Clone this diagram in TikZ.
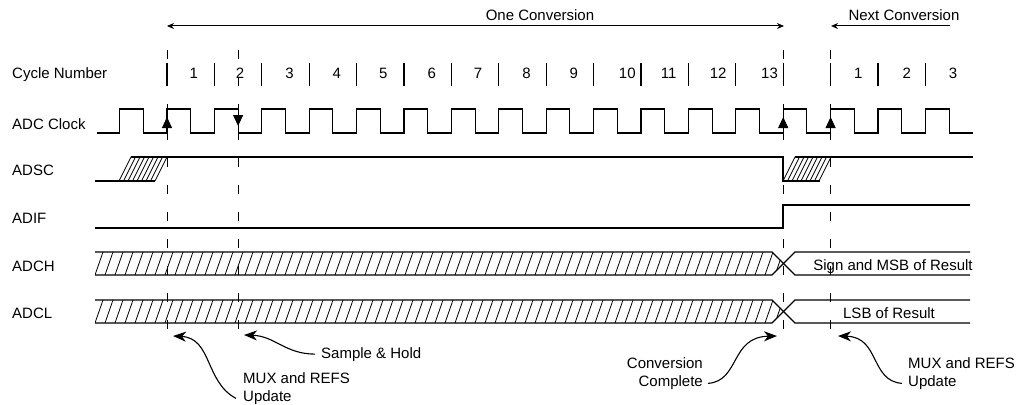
\documentclass[tikz,border=0pt]{standalone}
\usepackage{fontspec}
\setmainfont{Liberation Sans}
\usetikzlibrary{arrows.meta}

\begin{document}
\begin{tikzpicture}[x=1pt, y=-1pt,
    lbl/.style={font=\fontsize{15}{18}\selectfont, inner sep=0pt},
    sig/.style={line width=1.1pt},
    hatch/.style={line width=0.8pt},
    guide/.style={line width=1pt, dash pattern=on 9pt off 18pt},
    edgetip/.style={line width=1pt, -{Triangle[length=11pt, width=10pt]}},
    convspan/.style={line width=1pt},
    note/.style={line width=1.1pt, -{Stealth[length=13pt, width=10pt, inset=4pt]}}]
  \useasboundingbox (0,0) rectangle (1027,404);
  \def\per{47.4}
  % row labels
  \foreach \lab/\y [count=\i] in {Cycle Number/73, ADC Clock/124, ADSC/170, ADIF/218, ADCH/266, ADCL/313}
    {\node[lbl, anchor=base west] (row\i) at (12,\y+5.4) {\lab};}

  % conversion spans
  \node[lbl, anchor=base] (one) at (540,20.4) {One Conversion};
  \node[lbl, anchor=base] (next) at (904,20.4) {Next Conversion};
  \coordinate (oneL) at (167,26);
  \coordinate (oneR) at (784,26);
  \coordinate (nextL) at (831,26);
  \coordinate (nextR) at (950,26);
  \draw[convspan, {Stealth[length=7pt, width=6pt]}-{Stealth[length=7pt, width=6pt]}] (oneL) -- (oneR);
  \draw[convspan, -{Stealth[length=7pt, width=6pt]}] (nextR) -- (nextL);

  % cycle numbers
  \foreach \k in {0,...,16} {\draw[sig] ({167+\k*\per},63) -- ({167+\k*\per},86);}
  \foreach \n/\d in {1/3, 2/2, 3/4, 4/4, 5/3, 6/4, 7/3, 8/4, 9/4, 10/10, 11/4, 12/6, 13/10}
    {\node[lbl, anchor=base] (cyc\n) at ({167+(\n-0.5)*\per+\d},78) {\n};}
  \foreach \n/\d in {1/4, 2/5, 3/4}
    {\node[lbl, anchor=base] (nxt\n) at ({167+(\n+13.5)*\per+\d},78) {\n};}

  % guide lines
  \foreach \k/\gn in {0/gA, 1.5/gB, 13/gC, 14/gD}
    {\coordinate (\gn) at ({167+\k*\per},50);
     \draw[guide] (\gn) -- ({167+\k*\per},334);}

  % ADC clock
  \draw[sig] (97,133) \foreach \k in {-1,...,16} {
      -- ({167+\k*\per},133) -- ({167+\k*\per},109)
      -- ({167+(\k+0.5)*\per},109) -- ({167+(\k+0.5)*\per},133)} -- (973,133);
  \foreach \k in {0,13,14} {\draw[edgetip] ({167+\k*\per},133) -- ({167+\k*\per},117);}
  \draw[edgetip] ({167+1.5*\per},109) -- ({167+1.5*\per},126);

  % ADSC
  \draw[sig] (95,181) -- (155,181);
  \draw[sig] (131,157) -- (783,157) -- (783,181) -- (820,181);
  \draw[sig] (795,157) -- (973,157);
  \foreach \d in {0,4.5,...,36} {
    \draw[hatch] (119+\d,181) -- (131+\d,157);
    \draw[hatch] (783+\d,181) -- (795+\d,157);}

  % ADIF
  \draw[sig] (95,228) -- (783,228) -- (783,205) -- (970,205);

  % ADCH and ADCL
  \foreach \c in {263.5, 311.5} {
    \begin{scope}
      \clip (95,\c-11.5) -- (772,\c-11.5) -- (783.5,\c) -- (772,\c+11.5) -- (95,\c+11.5) -- cycle;
      \foreach \x in {85,95,...,785} {\draw[hatch] (\x,\c+11.5) -- (\x+8,\c-11.5);}
    \end{scope}
    \draw[sig] (95,\c-11.5) -- (772,\c-11.5) -- (795,\c+11.5) -- (970,\c+11.5);
    \draw[sig] (95,\c+11.5) -- (772,\c+11.5) -- (795,\c-11.5) -- (970,\c-11.5);
  }
  \node[lbl, anchor=base] (msb) at (893,270.4) {Sign and MSB of Result};
  \node[lbl, anchor=base] (lsb) at (889,318) {LSB of Result};

  % annotations
  \node[lbl, anchor=base west] (samp) at (321,358) {Sample \& Hold};
  \node[lbl, anchor=north west, align=left] (muxA) at (243,372) {MUX and REFS\\Update};
  \node[lbl, anchor=north east, align=right] (conv) at (703,357) {Conversion\\Complete};
  \node[lbl, anchor=north west, align=left] (muxB) at (908,357) {MUX and REFS\\Update};
  \coordinate (sampTip) at (244,335);
  \coordinate (muxATip) at (173,336);
  \coordinate (convTip) at (777,336);
  \coordinate (muxBTip) at (838,336);
  \draw[note] ([xshift=-6pt]samp.west) .. controls (285,354) and (275,336) .. (sampTip);
  \draw[note] ([xshift=-7pt, yshift=6pt]muxA.south west) .. controls (205,382) and (212,338) .. (muxATip);
  \draw[note] ([xshift=5pt, yshift=6pt]conv.south east) .. controls (740,381) and (730,337) .. (convTip);
  \draw[note] ([xshift=-6pt, yshift=6pt]muxB.south west) .. controls (870,381) and (880,337) .. (muxBTip);
\end{tikzpicture}
\end{document}
